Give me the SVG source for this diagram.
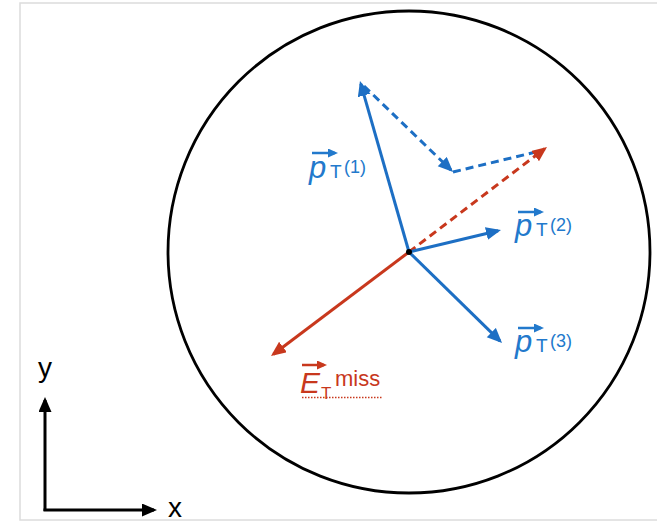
<svg xmlns="http://www.w3.org/2000/svg" width="657" height="522" viewBox="0 0 657 522">
  <style>
    .blue { stroke: #1d6fc4; stroke-width: 3; fill: none; }
    .red { stroke: #c8381d; stroke-width: 3; fill: none; }
    .dash { stroke-dasharray: 8 5; }
    .axis { stroke: #000; stroke-width: 3; fill: none; }
    .lblue { fill: #2279cc; font-family: "Liberation Sans", Arial, sans-serif; }
    .lred { fill: #c8381d; font-family: "Liberation Sans", Arial, sans-serif; }
    .big { font-size: 31px; font-style: italic; }
    .sub { font-size: 19px; }
    .sup { font-size: 18px; }
    .ax { font-family: "Liberation Sans", Arial, sans-serif; font-size: 28px; fill: #000; }
  </style>
  <defs>
    <marker id="ab" markerUnits="userSpaceOnUse" markerWidth="16" markerHeight="14" refX="12" refY="6.5" orient="auto">
      <path d="M0,0 L15,6.5 L0,13 z" fill="#1d6fc4"/>
    </marker>
    <marker id="ar" markerUnits="userSpaceOnUse" markerWidth="16" markerHeight="14" refX="12" refY="6.5" orient="auto">
      <path d="M0,0 L15,6.5 L0,13 z" fill="#c8381d"/>
    </marker>
    <marker id="ak" markerUnits="userSpaceOnUse" markerWidth="16" markerHeight="14" refX="12" refY="6.5" orient="auto">
      <path d="M0,0 L15,6.5 L0,13 z" fill="#000"/>
    </marker>
    <marker id="sb" markerUnits="userSpaceOnUse" markerWidth="11" markerHeight="10" refX="7" refY="4.5" orient="auto">
      <path d="M0,0 L10,4.5 L0,9 z" fill="#2279cc"/>
    </marker>
    <marker id="sr" markerUnits="userSpaceOnUse" markerWidth="11" markerHeight="10" refX="7" refY="4.5" orient="auto">
      <path d="M0,0 L10,4.5 L0,9 z" fill="#c8381d"/>
    </marker>
  </defs>

  <rect x="20" y="3" width="660" height="517" fill="#fff" stroke="#dcdcdc" stroke-width="1.5"/>

  <g id="detector">
    <circle cx="409" cy="252" r="241" fill="none" stroke="#000" stroke-width="2.8"/>
  </g>

  <g id="connectors">
    <line class="blue dash" x1="364" y1="86" x2="450.9" y2="169.9" marker-end="url(#ab)"/>
    <line class="blue dash" x1="453" y1="172" x2="540" y2="151"/>
    <line class="red dash" x1="409" y1="252" x2="544.6" y2="148.8" marker-end="url(#ar)"/>
    <line class="blue" x1="409" y1="252" x2="360.8" y2="83.9" marker-end="url(#ab)"/>
    <line class="blue" x1="409" y1="252" x2="498.1" y2="230.7" marker-end="url(#ab)"/>
    <line class="blue" x1="409" y1="252" x2="499.9" y2="340.9" marker-end="url(#ab)"/>
    <line class="red" x1="409" y1="252" x2="273.4" y2="354.2" marker-end="url(#ar)"/>
  </g>

  <g id="vertex">
    <circle cx="409" cy="252" r="3" fill="#000"/>
  </g>

  <g id="label-pt1">
    <line x1="312" y1="153" x2="335" y2="153" stroke="#2279cc" stroke-width="2.5" marker-end="url(#sb)"/>
    <text class="lblue big" x="309" y="178">p</text>
    <text class="lblue sub" x="330" y="178">T</text>
    <text class="lblue sup" x="344" y="173">(1)</text>
  </g>

  <g id="label-pt2">
    <line x1="518" y1="212" x2="541" y2="212" stroke="#2279cc" stroke-width="2.5" marker-end="url(#sb)"/>
    <text class="lblue big" x="515" y="236">p</text>
    <text class="lblue sub" x="536" y="236">T</text>
    <text class="lblue sup" x="550" y="231">(2)</text>
  </g>

  <g id="label-pt3">
    <line x1="518" y1="328" x2="541" y2="328" stroke="#2279cc" stroke-width="2.5" marker-end="url(#sb)"/>
    <text class="lblue big" x="515" y="352">p</text>
    <text class="lblue sub" x="536" y="352">T</text>
    <text class="lblue sup" x="550" y="347">(3)</text>
  </g>

  <g id="label-met">
    <line x1="302" y1="365" x2="324" y2="365" stroke="#c8381d" stroke-width="2.5" marker-end="url(#sr)"/>
    <text class="lred" x="300" y="393" font-size="30" font-style="italic">E</text>
    <text class="lred" x="321" y="399" font-size="17">T</text>
    <text class="lred" x="335" y="386" font-size="22">miss</text>
    <line x1="302" y1="397.5" x2="383" y2="397.5" stroke="#c8381d" stroke-width="1.5" stroke-dasharray="1.5 1.5"/>
  </g>

  <g id="axes">
    <line class="axis" x1="45" y1="511" x2="45" y2="400" marker-end="url(#ak)"/>
    <line class="axis" x1="43.5" y1="510" x2="154" y2="510" marker-end="url(#ak)"/>
    <text class="ax" x="45" y="377" text-anchor="middle">y</text>
    <text class="ax" x="168" y="517">x</text>
  </g>
</svg>
